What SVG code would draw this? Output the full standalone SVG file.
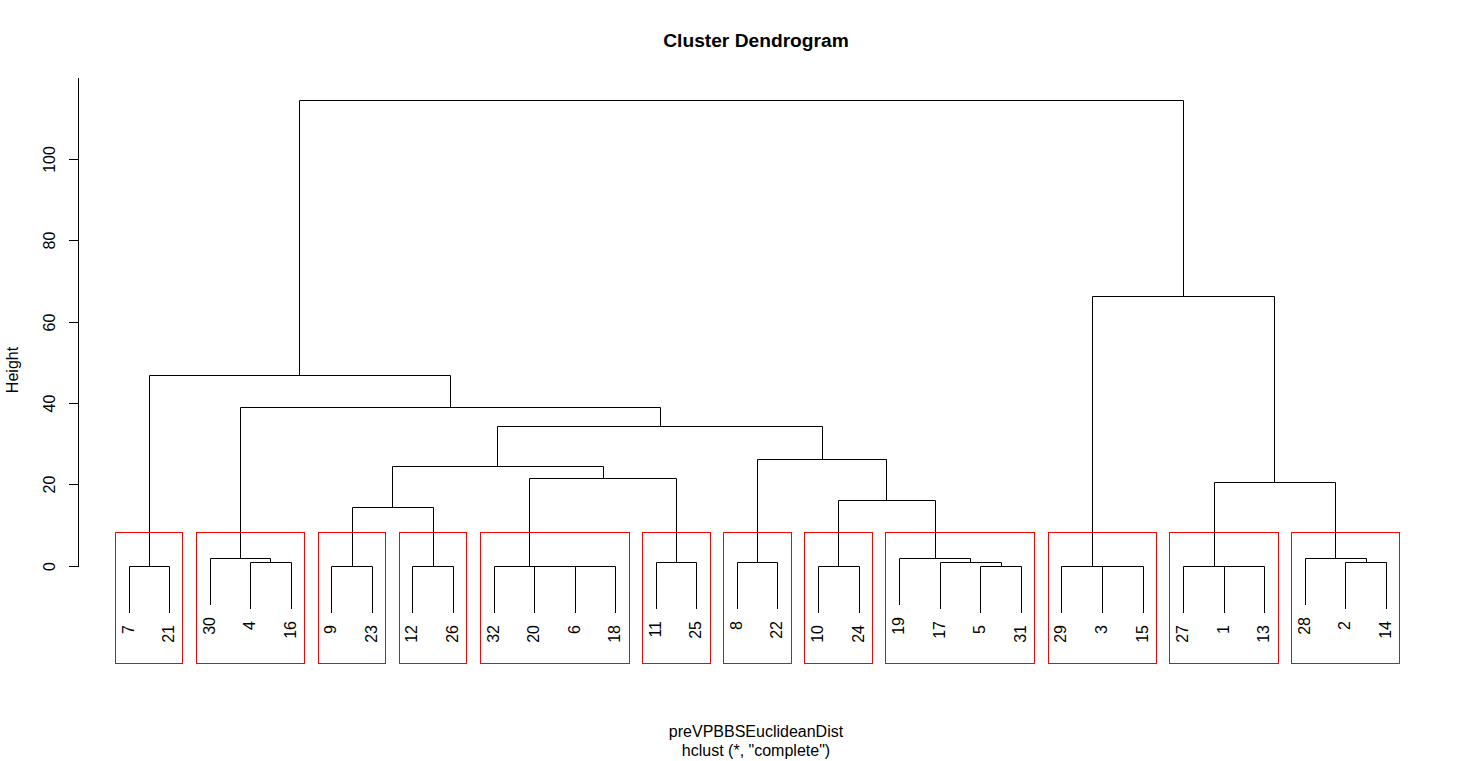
<svg xmlns="http://www.w3.org/2000/svg" width="1477" height="761" viewBox="0 0 1477 761">
<style>
.ln{fill:none;stroke:#000;stroke-width:1;stroke-linecap:square}
.bx{fill:none;stroke:#FF0000;stroke-width:1}
.t{font-family:"Liberation Sans",Arial,sans-serif;font-size:16px;fill:#000}
.lf{font-family:"Liberation Sans",Arial,sans-serif;font-size:16px;fill:#000;text-anchor:end}
.ttl{font-family:"Liberation Sans",Arial,sans-serif;font-size:19.2px;font-weight:bold;fill:#000;text-anchor:middle}
</style>
<rect width="1477" height="761" fill="#fff"/>
<g id="title"><text class="ttl" x="756" y="47">Cluster Dendrogram</text></g>
<g id="axis">
<path class="ln" d="M78.5 566.5V78.5M69.5 566.5H78.5M69.5 484.5H78.5M69.5 403.5H78.5M69.5 322.5H78.5M69.5 240.5H78.5M69.5 159.5H78.5"/>
<g class="t" text-anchor="middle">
<text transform="translate(55 566.5) rotate(-90)">0</text>
<text transform="translate(55 484.5) rotate(-90)">20</text>
<text transform="translate(55 403.5) rotate(-90)">40</text>
<text transform="translate(55 322.5) rotate(-90)">60</text>
<text transform="translate(55 240.5) rotate(-90)">80</text>
<text transform="translate(55 159.5) rotate(-90)">100</text>
<text transform="translate(18 370) rotate(-90)">Height</text>
</g>
</g>
<g id="connectors">
<path class="ln" d="M129.5 612.5V566.5H169.5V612.5
M250.5 608.5V562.5H291.5V608.5
M210.5 604.5V558.5H270.5V562.5
M331.5 612.5V566.5H372.5V612.5
M412.5 612.5V566.5H453.5V612.5
M575.5 612.5V566.5H615.5V612.5
M534.5 612.5V566.5H595.5
M494.5 612.5V566.5H565.5
M656.5 608.5V562.5H696.5V608.5
M737.5 608.5V562.5H777.5V608.5
M818.5 612.5V566.5H859.5V612.5
M980.5 612.5V566.5H1021.5V612.5
M940.5 608.5V562.5H1001.5V566.5
M899.5 604.5V558.5H970.5V562.5
M1102.5 612.5V566.5H1143.5V612.5
M1061.5 612.5V566.5H1122.5
M1224.5 612.5V566.5H1264.5V612.5
M1183.5 612.5V566.5H1244.5
M1345.5 608.5V562.5H1386.5V608.5
M1305.5 604.5V558.5H1366.5V562.5
M352.5 566.5V507.5H433.5V566.5
M529.5 566.5V478.5H676.5V562.5
M392.5 507.5V466.5H603.5V478.5
M838.5 566.5V500.5H935.5V558.5
M757.5 562.5V459.5H886.5V500.5
M497.5 466.5V426.5H822.5V459.5
M240.5 558.5V407.5H660.5V426.5
M149.5 566.5V375.5H450.5V407.5
M1214.5 566.5V482.5H1335.5V558.5
M1092.5 566.5V296.5H1274.5V482.5
M299.5 375.5V100.5H1183.5V296.5"/>
</g>
<g id="leaves" class="lf">
<g id="leaf-7"><text transform="translate(134 625) rotate(-90)">7</text></g>
<g id="leaf-21"><text transform="translate(174 625) rotate(-90)">21</text></g>
<g id="leaf-30"><text transform="translate(215 617) rotate(-90)">30</text></g>
<g id="leaf-4"><text transform="translate(255 621) rotate(-90)">4</text></g>
<g id="leaf-16"><text transform="translate(296 621) rotate(-90)">16</text></g>
<g id="leaf-9"><text transform="translate(336 625) rotate(-90)">9</text></g>
<g id="leaf-23"><text transform="translate(377 625) rotate(-90)">23</text></g>
<g id="leaf-12"><text transform="translate(417 625) rotate(-90)">12</text></g>
<g id="leaf-26"><text transform="translate(458 625) rotate(-90)">26</text></g>
<g id="leaf-32"><text transform="translate(499 625) rotate(-90)">32</text></g>
<g id="leaf-20"><text transform="translate(539 625) rotate(-90)">20</text></g>
<g id="leaf-6"><text transform="translate(580 625) rotate(-90)">6</text></g>
<g id="leaf-18"><text transform="translate(620 625) rotate(-90)">18</text></g>
<g id="leaf-11"><text transform="translate(661 621) rotate(-90)">11</text></g>
<g id="leaf-25"><text transform="translate(701 621) rotate(-90)">25</text></g>
<g id="leaf-8"><text transform="translate(742 621) rotate(-90)">8</text></g>
<g id="leaf-22"><text transform="translate(782 621) rotate(-90)">22</text></g>
<g id="leaf-10"><text transform="translate(823 625) rotate(-90)">10</text></g>
<g id="leaf-24"><text transform="translate(864 625) rotate(-90)">24</text></g>
<g id="leaf-19"><text transform="translate(904 617) rotate(-90)">19</text></g>
<g id="leaf-17"><text transform="translate(945 621) rotate(-90)">17</text></g>
<g id="leaf-5"><text transform="translate(985 625) rotate(-90)">5</text></g>
<g id="leaf-31"><text transform="translate(1026 625) rotate(-90)">31</text></g>
<g id="leaf-29"><text transform="translate(1066 625) rotate(-90)">29</text></g>
<g id="leaf-3"><text transform="translate(1107 625) rotate(-90)">3</text></g>
<g id="leaf-15"><text transform="translate(1148 625) rotate(-90)">15</text></g>
<g id="leaf-27"><text transform="translate(1188 625) rotate(-90)">27</text></g>
<g id="leaf-1"><text transform="translate(1229 625) rotate(-90)">1</text></g>
<g id="leaf-13"><text transform="translate(1269 625) rotate(-90)">13</text></g>
<g id="leaf-28"><text transform="translate(1310 617) rotate(-90)">28</text></g>
<g id="leaf-2"><text transform="translate(1350 621) rotate(-90)">2</text></g>
<g id="leaf-14"><text transform="translate(1391 621) rotate(-90)">14</text></g>
</g>
<g id="clusters">
<rect class="bx" x="115.5" y="532.5" width="67" height="131"/>
<rect class="bx" x="196.5" y="532.5" width="108" height="131"/>
<rect class="bx" x="318.5" y="532.5" width="67" height="131"/>
<rect class="bx" x="399.5" y="532.5" width="67" height="131"/>
<rect class="bx" x="480.5" y="532.5" width="149" height="131"/>
<rect class="bx" x="642.5" y="532.5" width="68" height="131"/>
<rect class="bx" x="723.5" y="532.5" width="68" height="131"/>
<rect class="bx" x="804.5" y="532.5" width="68" height="131"/>
<rect class="bx" x="885.5" y="532.5" width="149" height="131"/>
<rect class="bx" x="1048.5" y="532.5" width="108" height="131"/>
<rect class="bx" x="1169.5" y="532.5" width="109" height="131"/>
<rect class="bx" x="1291.5" y="532.5" width="108" height="131"/>
</g>
<g id="xlabel" class="t" text-anchor="middle">
<text x="756" y="737">preVPBBSEuclideanDist</text>
<text x="756" y="756">hclust (*, "complete")</text>
</g>
</svg>
